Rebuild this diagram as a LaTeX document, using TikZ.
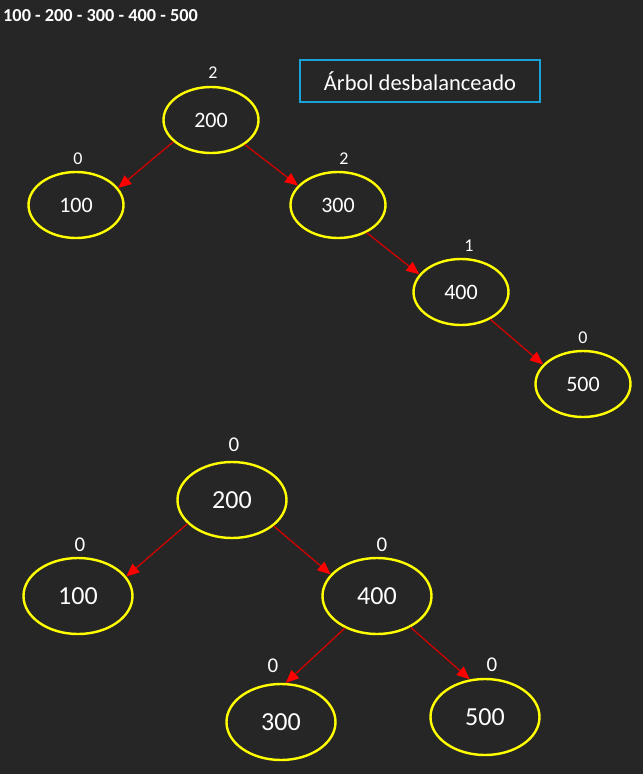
\documentclass[tikz,border=0pt]{standalone}
\usepackage{fontspec}
\setmainfont{Carlito}
\usetikzlibrary{shapes.geometric,arrows.meta}
\definecolor{bg}{HTML}{262626}
\definecolor{ylw}{HTML}{FFFF00}
\definecolor{cyanbox}{HTML}{1AA3D9}
\definecolor{arrline}{HTML}{D00000}
\definecolor{arrhead}{HTML}{FF0000}
\tikzset{
  nodeA/.style={ellipse,draw=ylw,line width=2.4pt,minimum width=95pt,minimum height=66pt,inner sep=0pt,text=white,font=\fontsize{22}{24}\selectfont},
  nodeB/.style={ellipse,draw=ylw,line width=2.4pt,minimum width=109pt,minimum height=76pt,inner sep=0pt,text=white,font=\fontsize{26}{28}\selectfont},
  lblA/.style={text=white,inner sep=0pt,font=\fontsize{18}{20}\selectfont},
  lblB/.style={text=white,inner sep=0pt,font=\fontsize{21}{23}\selectfont},
  conn/.style={draw=arrline,line width=1.3pt,-{Triangle[length=13pt,width=11pt,fill=arrhead,color=arrhead]}},
}
\begin{document}
\begin{tikzpicture}[x=1pt,y=-1pt]
\fill[bg] (0,0) rectangle (643,774);
\useasboundingbox (0,0) rectangle (643,774);
\node[anchor=west,text=white,inner sep=0pt,font=\fontsize{18.3}{20}\selectfont\bfseries] (hdr) at (3,16) {100 - 200 - 300 - 400 - 500};
\node[draw=cyanbox,line width=2pt,minimum width=240pt,minimum height=42pt,inner sep=0pt,text=white,font=\fontsize{22.5}{24}\selectfont] (title) at (420,81) {Árbol desbalanceado};
% top tree
\node[nodeA] (t200) at (211,120) {200};
\node[nodeA] (t100) at (76,205) {100};
\node[nodeA] (t300) at (338,205) {300};
\node[nodeA] (t400) at (461,292) {400};
\node[nodeA] (t500) at (583,384) {500};
\node[lblA] (lt200) at (213,73) {2};
\node[lblA] (lt100) at (78,159) {0};
\node[lblA] (lt300) at (344,159) {2};
\node[lblA] (lt400) at (469,246) {1};
\node[lblA] (lt500) at (583,338) {0};
\draw[conn] (t200.210) -- (t100.22);
\draw[conn] (t200.-36) -- (t300.154);
\draw[conn] (t300.-44) -- (t400.157);
\draw[conn] (t400.-43) -- (t500.154);
% bottom tree
\node[nodeB] (b200) at (232,500) {200};
\node[nodeB] (b100) at (78,596) {100};
\node[nodeB] (b400) at (377,596) {400};
\node[nodeB] (b300) at (281,722) {300};
\node[nodeB] (b500) at (485,717) {500};
\node[lblB] (lb200) at (234,445) {0};
\node[lblB] (lb100) at (80,545) {0};
\node[lblB] (lb400) at (382,545) {0};
\node[lblB] (lb300) at (273,666) {0};
\node[lblB] (lb500) at (492,665) {0};
\draw[conn] (b200.208) -- (b100.22);
\draw[conn] (b200.-32) -- (b400.155);
\draw[conn] (b400.-135) -- (b300.83);
\draw[conn] (b400.-43) -- (b500.112);
\end{tikzpicture}
\end{document}
